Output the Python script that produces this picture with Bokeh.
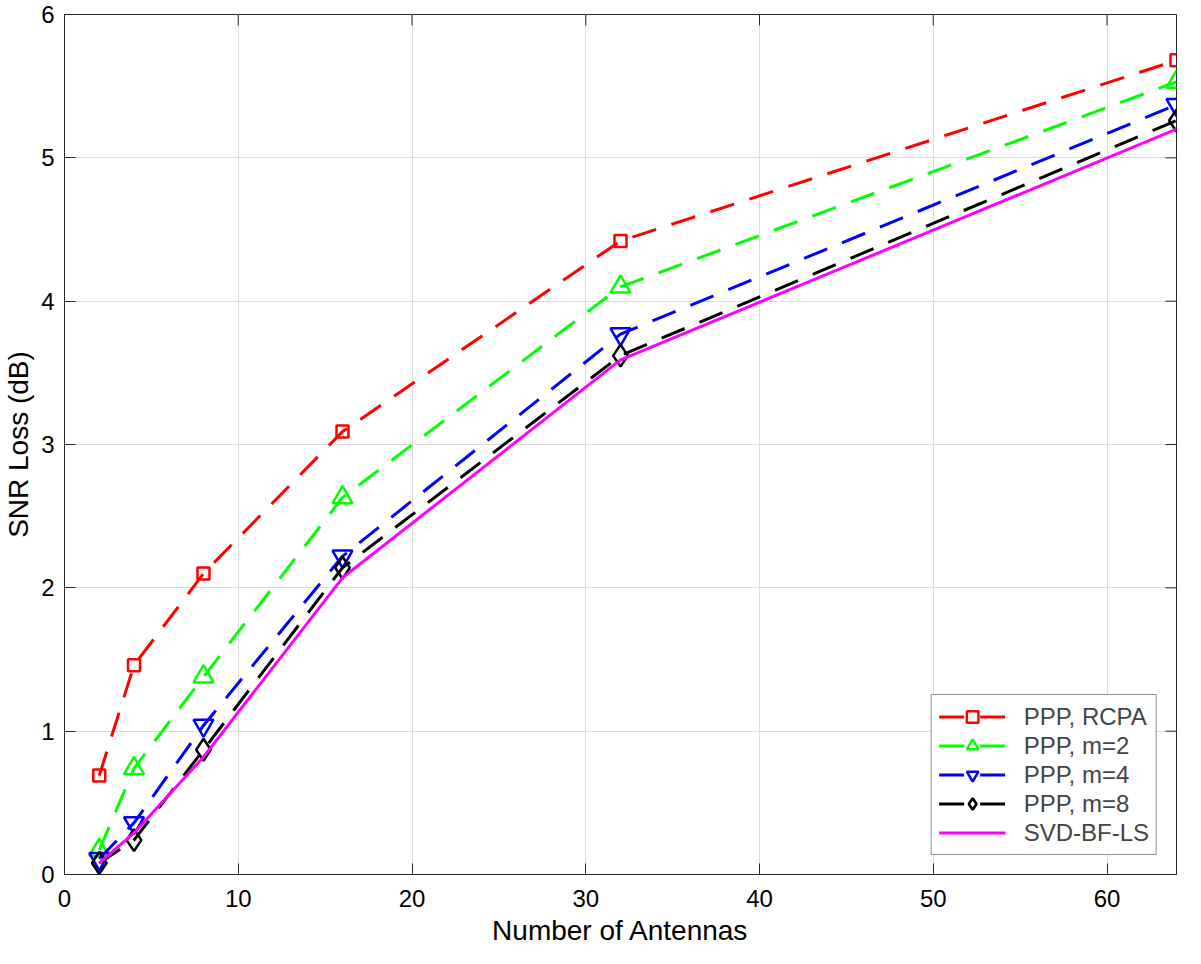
import math
from bokeh.plotting import figure
from bokeh.models import FixedTicker, Legend, LegendItem, Range1d
from bokeh.embed import file_html
from bokeh.resources import INLINE

# ---- data ----
antennas = [2, 4, 8, 16, 32, 64]
ppp_rcpa = [0.69, 1.46, 2.10, 3.09, 4.42, 5.68]
ppp_m2 = [0.17, 0.74, 1.38, 2.63, 4.10, 5.53]
ppp_m4 = [0.11, 0.36, 1.04, 2.22, 3.77, 5.37]
ppp_m8 = [0.08, 0.24, 0.87, 2.14, 3.62, 5.26]
svd_bf_ls = [0.08, 0.29, 0.82, 2.07, 3.59, 5.20]
x_ticks = [0, 10, 20, 30, 40, 50, 60]
y_ticks = [0, 1, 2, 3, 4, 5, 6]
x_lim = (0, 64)
y_lim = (0, 6)

FONT = "Liberation Sans"
AX = "#262626"

p = figure(width=1185, height=948, output_backend="svg", toolbar_location=None,
           x_range=Range1d(*x_lim), y_range=Range1d(*y_lim),
           min_border_left=50, min_border_right=9, min_border_top=14, min_border_bottom=70)

p.outline_line_color = AX
p.outline_line_width = 1
p.background_fill_color = "white"
p.border_fill_color = "white"

for ax in (p.xaxis[0], p.yaxis[0]):
    ax.major_tick_in = 11
    ax.major_tick_out = 0
    ax.minor_tick_line_color = None
    ax.axis_line_color = AX
    ax.major_tick_line_color = AX
    ax.major_label_text_font = FONT
    ax.major_label_text_font_size = "24px"
    ax.major_label_text_color = "black"
    ax.axis_label_text_font = FONT
    ax.axis_label_text_font_size = "28px"
    ax.axis_label_text_font_style = "normal"
    ax.axis_label_text_color = "black"

p.xaxis[0].ticker = FixedTicker(ticks=x_ticks)
p.yaxis[0].ticker = FixedTicker(ticks=y_ticks)
p.xaxis[0].axis_label = "Number of Antennas"
p.yaxis[0].axis_label = "SNR Loss (dB)"
p.xaxis[0].major_label_standoff = 15
p.xaxis[0].axis_label_standoff = 5
p.yaxis[0].major_label_standoff = 10
p.yaxis[0].axis_label_standoff = 4

# inward tick marks on the top and right edges of the box (clipped to the frame)
p.scatter(x_ticks, [y_lim[1]] * len(x_ticks), marker="dash", size=22, angle=math.pi / 2,
          line_color=AX, line_width=1)
p.scatter([x_lim[1]] * len(y_ticks), y_ticks, marker="dash", size=22,
          line_color=AX, line_width=1)

p.xgrid.ticker = FixedTicker(ticks=x_ticks)
p.ygrid.ticker = FixedTicker(ticks=y_ticks)
p.grid.grid_line_color = "#dcdcdc"
p.grid.grid_line_width = 1

series = [
    ("PPP, RCPA", ppp_rcpa, "#ff0000", "square", 12),
    ("PPP, m=2", ppp_m2, "#00ff00", "triangle", 20),
    ("PPP, m=4", ppp_m4, "#0000ff", "inverted_triangle", 20),
    ("PPP, m=8", ppp_m8, "#000000", "diamond", 22),
]

items = []
for label, ys, col, marker, size in series:
    l = p.line(antennas, ys, line_color=col, line_width=3, line_dash="25 16")
    s = p.scatter(antennas, ys, marker=marker, size=size,
                  line_color=col, line_width=2.5, fill_color=None)
    items.append(LegendItem(label=label, renderers=[l, s]))

lm = p.line(antennas, svd_bf_ls, line_color="#ff00ff", line_width=3)
items.append(LegendItem(label="SVD-BF-LS", renderers=[lm]))

legend = Legend(items=items, location="bottom_right", margin=19,
                label_text_font=FONT, label_text_font_size="24px",
                label_height=25, glyph_height=29, glyph_width=67, spacing=0,
                padding=7, label_standoff=18,
                border_line_color=AX, border_line_width=1,
                background_fill_color="white", background_fill_alpha=1)
p.add_layout(legend, "center")

open("out.html", "w").write(file_html(p, INLINE))
